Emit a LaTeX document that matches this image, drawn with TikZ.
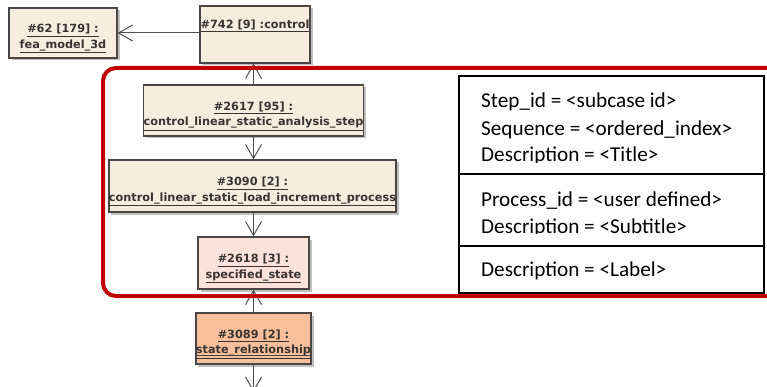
\documentclass[tikz,border=0pt]{standalone}
\usepackage{fontspec}
\usetikzlibrary{arrows.meta,shadows}
\newfontfamily\boxfont{DejaVu Sans}
\newfontfamily\notefont{Carlito}
\definecolor{beige}{HTML}{F7EDDF}
\definecolor{pinkstate}{HTML}{FBE2DB}
\definecolor{salmon}{HTML}{F8BF9C}
\definecolor{frameline}{HTML}{4A4646}
\definecolor{labeltext}{HTML}{3A3330}
\definecolor{linkline}{HTML}{505050}
\definecolor{scopered}{HTML}{C00000}
\newcommand{\ulab}[1]{\underline{#1}}
% two underlined lines, set a little below the box centre
\newcommand{\twoline}[2]{\raisebox{-4.5pt}[\height][\depth]{%
  \begin{tabular}{@{}c@{}}\ulab{#1}\\\ulab{#2}\end{tabular}}}
\tikzset{
  inst/.style={draw=frameline, line width=1.2pt, fill=beige,
    drop shadow={shadow xshift=2.5pt, shadow yshift=-2.5pt, fill=black!45, opacity=0.55},
    font=\boxfont\bfseries\fontsize{11.3}{15.5}\selectfont, text=labeltext,
    inner sep=0pt},
  link/.style={draw=linkline, line width=1pt,
    -{Straight Barb[length=14pt,width=16pt,line width=1pt]}},
  notetext/.style={font=\notefont\fontsize{21.2}{24}\selectfont, anchor=base west, inner sep=0pt}
}
\begin{document}
\begin{tikzpicture}[x=1pt,y=-1pt]
\useasboundingbox (0,0) rectangle (767,387);
\clip (0,0) rectangle (767,387);

% instance boxes
\node[inst, minimum width=108pt, minimum height=50pt] (fea) at (63,33)
  {\twoline{\#62 [179] :}{fea\_model\_3d}};
\node[inst, minimum width=110pt, minimum height=57pt] (ctrl) at (255,34.5) {};
\node[font=\boxfont\bfseries\fontsize{11.3}{15.5}\selectfont, text=labeltext, inner sep=0pt]
  (ctrltxt) at (255,26) {\ulab{\#742 [9] :control}};
\node[inst, minimum width=220pt, minimum height=51pt] (step) at (253.5,110.5)
  {\twoline{\#2617 [95] :}{control\_linear\_static\_analysis\_step}};
\node[inst, minimum width=287pt, minimum height=52pt] (proc) at (252.5,186)
  {\twoline{\#3090 [2] :}{control\_linear\_static\_load\_increment\_process}};
\node[inst, fill=pinkstate, minimum width=111pt, minimum height=52pt] (state) at (253.5,263)
  {\twoline{\#2618 [3] :}{specified\_state}};
\node[inst, fill=salmon, minimum width=111pt, minimum height=51pt] (rel) at (253.5,338.5)
  {\twoline{\#3089 [2] :}{state\_relationship}};
\draw[draw=frameline, line width=1pt] ([yshift=9.5pt]rel.south west) -- ([yshift=9.5pt]rel.south east);
\coordinate (below) at (253.5,392);

% links
\draw[link] (ctrl.west |- fea.east) -- (fea.east);
\draw[link] (step.north) -- (step.north |- ctrl.south);
\draw[link] (step.south) -- (step.south |- proc.north);
\draw[link] (proc.south -| state.north) -- (state.north);
\draw[link] (rel.north) -- (state.south);
\draw[link] (rel.south) -- (below);

% scope frame
\draw[draw=scopered, line width=4pt, rounded corners=13pt] (103,68) rectangle (800,296);

% attribute table
\node[draw=black, line width=1.5pt, fill=white, minimum width=305pt, minimum height=217pt,
  inner sep=0pt] (table) at (611.5,184.5) {};
\draw[line width=1.5pt] (459,174) coordinate (d1a) -- (764,174) coordinate (d1b);
\draw[line width=1.5pt] (459,246) coordinate (d2a) -- (764,246) coordinate (d2b);
\begin{scope}
  \clip (460,77) rectangle (763,163);
  \node[notetext] (t1) at (481,108) {Step\_id = <subcase id>};
  \node[notetext] (t2) at (481,136) {Sequence = <ordered\_index>};
  \node[notetext] (t3) at (481,162) {Description = <Title>};
\end{scope}
\begin{scope}
  \clip (460,175) rectangle (763,233);
  \node[notetext] (t4) at (481,207) {Process\_id = <user defined>};
  \node[notetext] (t5) at (481,233.5) {Description = <Subtitle>};
\end{scope}
\node[notetext] (t6) at (481,276) {Description = <Label>};
\end{tikzpicture}
\end{document}
